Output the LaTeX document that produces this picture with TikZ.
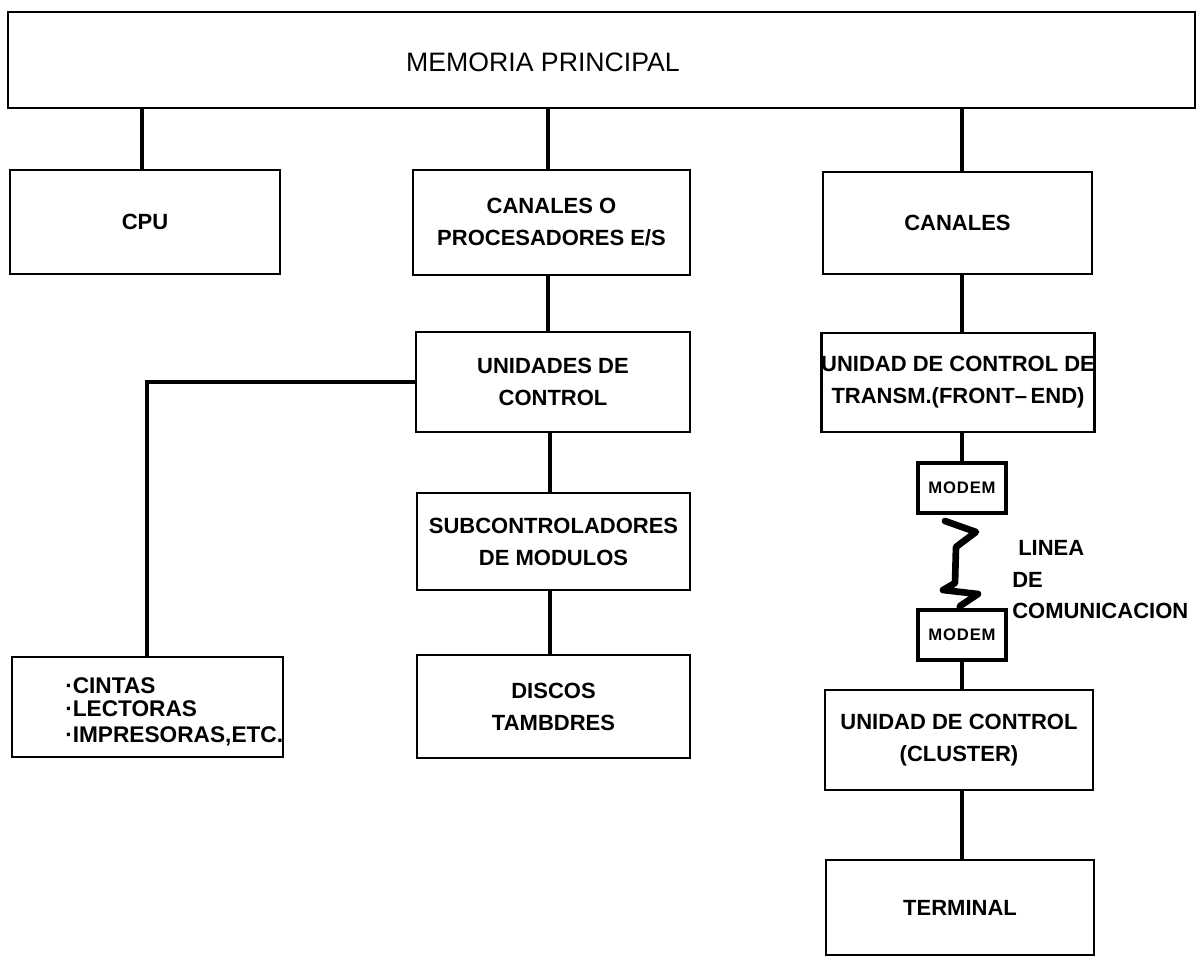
\documentclass[tikz,border=0pt]{standalone}
\usepackage{fontspec}
\setmainfont{Liberation Sans}
\newfontfamily\spacedfont[LetterSpace=5]{Liberation Sans}
\begin{document}
\begin{tikzpicture}[x=0.75pt,y=-0.75pt,
  box/.style={draw,line width=2.2pt,inner sep=0pt,align=center,
    font=\bfseries\fontsize{16.5}{24}\selectfont},
  txt/.style={inner sep=0pt,font=\bfseries\fontsize{16.5}{24}\selectfont},
  modembox/.style={draw,line width=2.4pt,inner sep=0pt,
    minimum width=66pt,minimum height=37.5pt,
    font=\spacedfont\bfseries\fontsize{12.5}{14}\selectfont},
  conn/.style={line width=3.6pt},
  zig/.style={line width=5pt,line join=round,line cap=round}]
\useasboundingbox (0,0) rectangle (1203,960);

% top level
\node[draw,line width=2.2pt,minimum width=890.25pt,minimum height=72pt] (mem) at (601.5,60) {};
\node[inner sep=0pt,font=\fontsize{20}{24}\selectfont] (memtxt) at (543,62) {MEMORIA PRINCIPAL};

% second row
\node[box,minimum width=202.5pt,minimum height=78pt] (cpu) at (145,222) {CPU};
\node[box,minimum width=207.75pt,minimum height=78.75pt] (cep) at (551.5,222.5) {CANALES O\\PROCESADORES E/S};
\node[box,minimum width=201.75pt,minimum height=76.5pt] (can) at (957.5,223) {CANALES};

% centre column
\node[box,minimum width=205.5pt,minimum height=75pt] (uc) at (553,382) {UNIDADES DE\\CONTROL};
\node[box,minimum width=204.75pt,minimum height=72.75pt] (sub) at (553.5,541.5) {SUBCONTROLADORES\\DE MODULOS};
\node[box,minimum width=204.75pt,minimum height=77.25pt] (dis) at (553.5,706.5) {DISCOS\\TAMBDRES};

% left peripheral box
\node[box,minimum width=203.25pt,minimum height=75pt] (cin) at (147.5,707) {};
\node[txt,anchor=west,align=left,font=\bfseries\fontsize{17}{17.6}\selectfont] (cintxt) at (65,712)
  {·CINTAS\\·LECTORAS\\[2pt]·IMPRESORAS,ETC.};

% right column
\node[box,minimum width=202.5pt,minimum height=74.25pt] (uct) at (958,382.5) {UNIDAD DE CONTROL DE\\TRANSM.(FRONT–\,END)};
\node[modembox] (m1) at (962,488) {MODEM};
\node[modembox] (m2) at (962,635) {MODEM};
\node[box,minimum width=201pt,minimum height=75pt] (ucc) at (959,740) {UNIDAD DE CONTROL\\(CLUSTER)};
\node[box,minimum width=201pt,minimum height=71.25pt] (ter) at (960,907.5) {TERMINAL};

% line label
\node[txt,anchor=west] (lin1) at (1018,548) {LINEA};
\node[txt,anchor=west] (lin2) at (1012,580) {DE};
\node[txt,anchor=west] (lin3) at (1012,611) {COMUNICACION};

% connectors
\draw[conn] (mem.south -| 142,0) -- (cpu.north -| 142,0);
\draw[conn] (mem.south -| 548,0) -- (cep.north -| 548,0);
\draw[conn] (mem.south -| 962,0) -- (can.north -| 962,0);
\draw[conn] (cep.south -| 548,0) -- (uc.north -| 548,0);
\draw[conn] (uc.south -| 550,0) -- (sub.north -| 550,0);
\draw[conn] (sub.south -| 550,0) -- (dis.north -| 550,0);
\draw[conn] (uc.west |- 0,382) -| (cin.north -| 147,0);
\draw[conn] (can.south -| 962,0) -- (uct.north -| 962,0);
\draw[conn] (uct.south -| 962,0) -- (m1.north);
\draw[conn] (m2.south) -- (ucc.north -| 962,0);
\draw[conn] (ucc.south -| 962,0) -- (ter.north -| 962,0);

% communication line between the modems
\coordinate (zs) at (945,521);
\draw[zig] (zs) -- (976,532) -- (956,547) -- (955,583) -- (943,590)
  -- (978,594) -- (960,606) -- (m2.north -| 960,0);
\end{tikzpicture}
\end{document}
